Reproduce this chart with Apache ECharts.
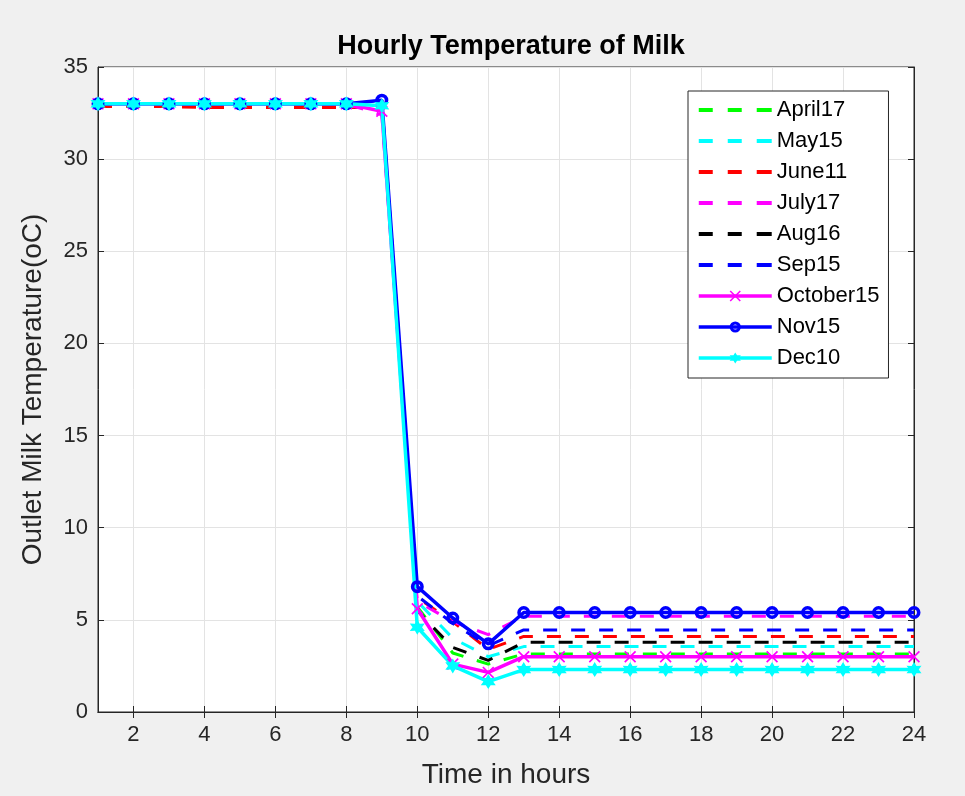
<!DOCTYPE html>
<html>
<head>
<meta charset="utf-8">
<script src="https://cdn.jsdelivr.net/npm/echarts@6/dist/echarts.min.js"></script>
<style>
  html, body { margin: 0; padding: 0; background: #f0f0f0; }
  #chart { width: 965px; height: 796px; }
</style>
</head>
<body>
<div id="chart"></div>
<script>
// Hours of the day (1..24)
const hours = [1,2,3,4,5,6,7,8,9,10,11,12,13,14,15,16,17,18,19,20,21,22,23,24];
const xTicks = [2,4,6,8,10,12,14,16,18,20,22,24];

// Outlet milk temperature (oC) per month, one value per hour
const april17   = [33,33,33,33,33,33,33,33,32.8,5.7,3.2,2.6,3.15,3.15,3.15,3.15,3.15,3.15,3.15,3.15,3.15,3.15,3.15,3.15];
const may15     = [33,33,33,33,33,33,33,33,32.8,6.0,4.0,3.0,3.55,3.55,3.55,3.55,3.55,3.55,3.55,3.55,3.55,3.55,3.55,3.55];
const june11    = [32.85,32.85,32.85,32.8,32.8,32.8,32.8,32.8,32.8,6.2,4.9,3.4,4.1,4.1,4.1,4.1,4.1,4.1,4.1,4.1,4.1,4.1,4.1,4.1];
const july17    = [33,33,33,33,33,33,33,33,32.4,6.0,4.9,4.2,5.2,5.2,5.2,5.2,5.2,5.2,5.2,5.2,5.2,5.2,5.2,5.2];
const aug16     = [33,33,33,33,33,33,33,33,32.8,5.5,3.5,2.8,3.78,3.78,3.78,3.78,3.78,3.78,3.78,3.78,3.78,3.78,3.78,3.78];
const sep15     = [33,33,33,33,33,33,33,33,33.1,6.3,4.8,3.6,4.45,4.45,4.45,4.45,4.45,4.45,4.45,4.45,4.45,4.45,4.45,4.45];
const october15 = [33,33,33,33,33,33,33,33,32.6,5.6,2.6,2.15,3.0,3.0,3.0,3.0,3.0,3.0,3.0,3.0,3.0,3.0,3.0,3.0];
const nov15     = [33,33,33,33,33,33,33,33,33.2,6.8,5.1,3.7,5.4,5.4,5.4,5.4,5.4,5.4,5.4,5.4,5.4,5.4,5.4,5.4];
const dec10     = [33,33,33,33,33,33,33,33,32.9,4.6,2.5,1.65,2.3,2.3,2.3,2.3,2.3,2.3,2.3,2.3,2.3,2.3,2.3,2.3];

const FONT = '"Liberation Sans", Arial, Helvetica, sans-serif';
const TXT = '#262626';

// marker shapes
const crossPath = 'path://M0 2L2 0L10 8L18 0L20 2L12 10L20 18L18 20L10 12L2 20L0 18L8 10Z';
const starPath = 'path://M10 0L12.75 5.24L18.66 5L15.5 10L18.66 15L12.75 14.76L10 20L7.25 14.76L1.34 15L4.5 10L1.34 5L7.25 5.24Z';
const ringPath = 'path://M10 0A10 10 0 1 1 10 20A10 10 0 1 1 10 0ZM10 5.5A4.5 4.5 0 1 0 10 14.5A4.5 4.5 0 1 0 10 5.5Z';
// legend sample for dashed lines: three dashes (tiny corner dots fix the box to 73x14)
const dashIcon = 'path://M0 0h0.01v0.01h-0.01zM73 14h0.01v0.01h-0.01zM0 5h14v4h-14zM29 5h14v4h-14zM58 5h15v4h-15z';

function pairs(vals) { return hours.map((h, i) => [h, vals[i]]); }

function dashed(name, vals, color) {
  return {
    name, type: 'line', data: pairs(vals), symbol: 'none', animation: false,
    lineStyle: { color, width: 3, type: [14, 14] },
    itemStyle: { color }
  };
}
function solid(name, vals, color, symbol, size) {
  return {
    name, type: 'line', data: pairs(vals), symbol, symbolSize: size, animation: false,
    showAllSymbol: true,
    lineStyle: { color, width: 3.5 },
    itemStyle: { color }
  };
}

const series = [
  dashed('April17', april17, '#00ff00'),
  dashed('May15', may15, '#00ffff'),
  dashed('June11', june11, '#ff0000'),
  dashed('July17', july17, '#ff00ff'),
  dashed('Aug16', aug16, '#000000'),
  dashed('Sep15', sep15, '#0000ff'),
  solid('October15', october15, '#ff00ff', crossPath, 12),
  solid('Nov15', nov15, '#0000ff', ringPath, 13),
  solid('Dec10', dec10, '#00ffff', starPath, 15)
];

const dashedNames = ['April17','May15','June11','July17','Aug16','Sep15'];
const markedNames = ['October15','Nov15','Dec10'];

const chart = echarts.init(document.getElementById('chart'), null, { renderer: 'canvas' });
chart.setOption({
  backgroundColor: '#f0f0f0',
  textStyle: { fontFamily: FONT },
  title: {
    text: 'Hourly Temperature of Milk',
    left: 506, top: 28, textAlign: 'center',
    textStyle: { fontFamily: FONT, fontSize: 27, fontWeight: 'bold', color: '#000' }
  },
  grid: {
    left: 98, right: 51, top: 67, bottom: 84,
    show: true, backgroundColor: '#ffffff', borderColor: TXT, borderWidth: 1
  },
  legend: {
    orient: 'vertical', left: 688, top: 91,
    data: dashedNames.map(n => ({ name: n, icon: dashIcon })).concat(markedNames.map(n => ({ name: n }))),
    itemWidth: 73, itemHeight: 14, itemGap: 9,
    padding: [8, 9, 9, 9],
    lineStyle: { width: 3.5 },
    backgroundColor: '#ffffff', borderColor: TXT, borderWidth: 1, borderRadius: 0,
    textStyle: { fontFamily: FONT, fontSize: 22, color: '#000' }
  },
  xAxis: [{
    type: 'value', min: 1, max: 24,
    name: 'Time in hours', nameLocation: 'middle', nameGap: 49,
    nameTextStyle: { fontFamily: FONT, fontSize: 28, color: TXT },
    axisLine: { show: true, lineStyle: { color: TXT, width: 1 } },
    axisTick: { show: true, inside: true, length: 6, customValues: xTicks, lineStyle: { color: TXT } },
    axisLabel: { customValues: xTicks, fontFamily: FONT, fontSize: 22, color: TXT, margin: 12 },
    splitLine: { show: true, customValues: xTicks, lineStyle: { color: '#e3e3e3', width: 1 } }
  }, {
    type: 'value', min: 1, max: 24, position: 'top',
    axisLine: { show: true, lineStyle: { color: TXT } },
    axisTick: { show: true, inside: true, length: 6, customValues: xTicks, lineStyle: { color: TXT } },
    axisLabel: { show: false },
    splitLine: { show: false }
  }],
  yAxis: [{
    type: 'value', min: 0, max: 35, interval: 5,
    name: 'Outlet Milk Temperature(oC)', nameLocation: 'middle', nameGap: 51,
    nameTextStyle: { fontFamily: FONT, fontSize: 28, color: TXT },
    axisLine: { show: true, lineStyle: { color: TXT, width: 1 } },
    axisTick: { show: true, inside: true, length: 6, lineStyle: { color: TXT } },
    axisLabel: { fontFamily: FONT, fontSize: 22, color: TXT, margin: 10 },
    splitLine: { show: true, lineStyle: { color: '#e3e3e3', width: 1 } }
  }, {
    type: 'value', min: 0, max: 35, interval: 5, position: 'right',
    axisLine: { show: true, lineStyle: { color: TXT } },
    axisTick: { show: true, inside: true, length: 6, lineStyle: { color: TXT } },
    axisLabel: { show: false },
    splitLine: { show: false }
  }],
  series
});
</script>
</body>
</html>
